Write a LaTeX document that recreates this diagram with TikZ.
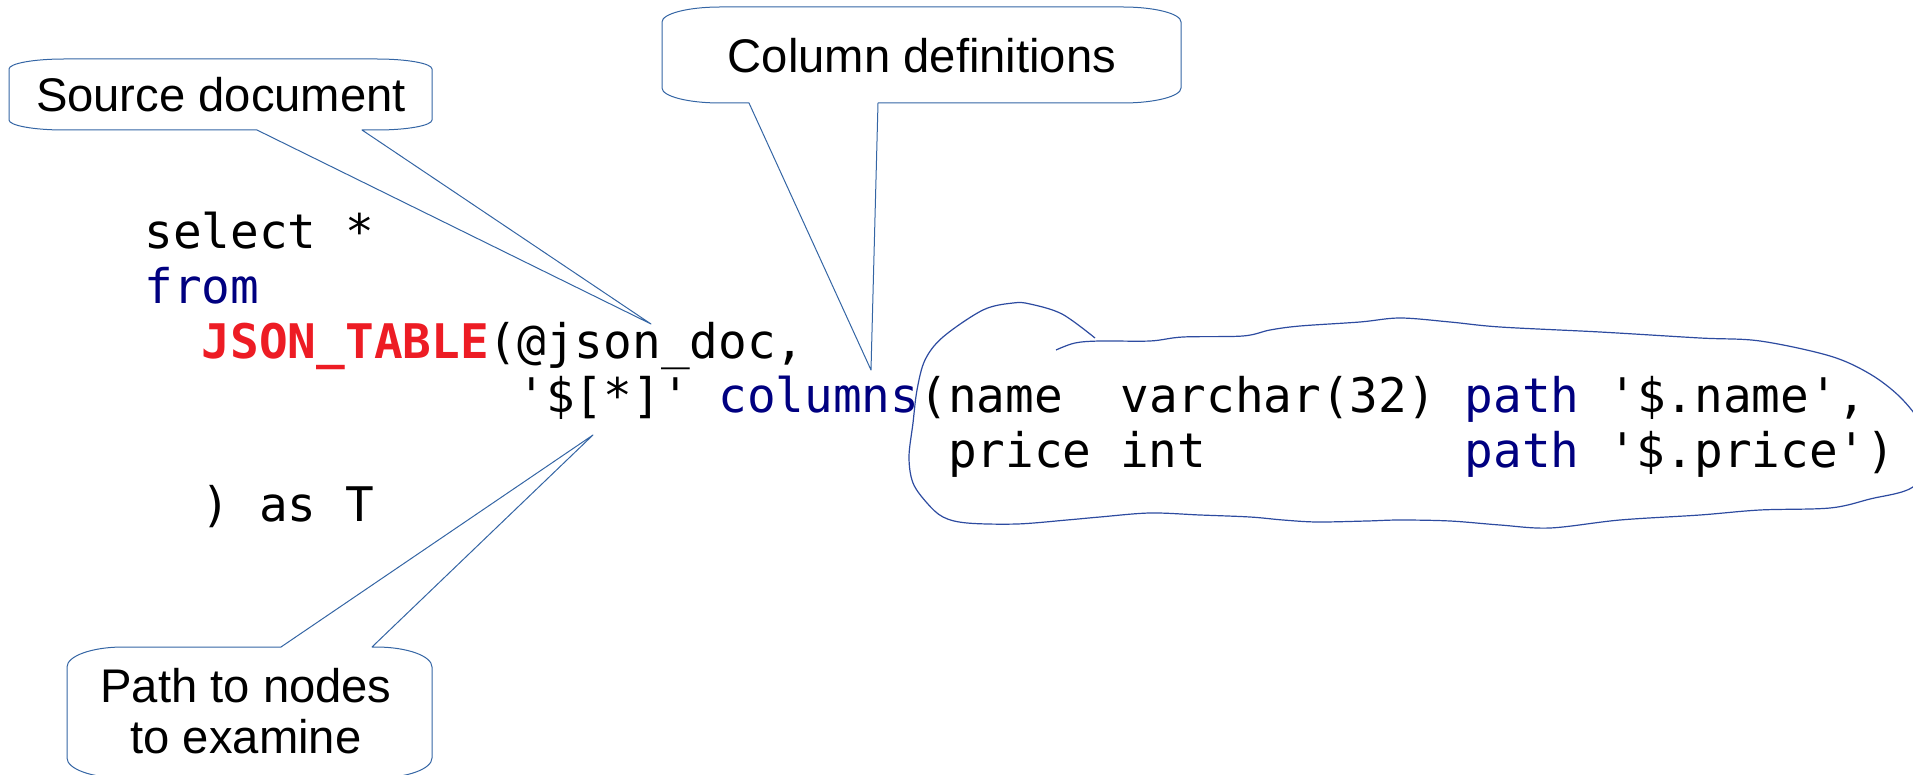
\documentclass[tikz,border=0pt]{standalone}
\usepackage{fontspec}
\setmainfont{Liberation Sans}
\setmonofont{DejaVu Sans Mono}
\definecolor{callblue}{RGB}{52,101,164}
\definecolor{cloudblue}{RGB}{45,75,160}
\definecolor{kwblue}{RGB}{0,0,128}
\definecolor{kwred}{RGB}{237,28,36}

\begin{document}
\begin{tikzpicture}[x=0.5pt, y=0.5pt]
\tikzset{code/.style={anchor=base west, inner sep=0pt, font=\ttfamily\fontsize{23.84}{27.25}\selectfont},
  calltext/.style={inner sep=0pt, font=\fontsize{23.6}{25.5}\selectfont},
  callout/.style={draw=callblue, line width=0.5pt, line join=round},
  cloud/.style={draw=cloudblue, line width=0.6pt}}
\useasboundingbox (0,0) rectangle (1913,-775);
\clip (0,0) rectangle (1913,-775);
% the query
\node[code] (lselect) at (144,-249) {select *};
\node[code] (lfrom) at (144,-303.5) {\textcolor{kwblue}{from}};
\node[code] (ltable) at (201.4,-358) {\textbf{\textcolor{kwred}{JSON\_TABLE}}(@json\_doc,};
\node[code] (lpath) at (517.1,-412.5) {'\$[*]' \textcolor{kwblue}{columns}(name~~varchar(32) \textcolor{kwblue}{path} '\$.name',};
\node[code] (lprice) at (947.6,-467) {price int~~~~~~~~~\textcolor{kwblue}{path} '\$.price')};
\node[code] (lend) at (201.4,-521.5) {) as T};
% tips of the callouts
\coordinate (srctip) at (651,-324);
\coordinate (coltip) at (871,-370);
\coordinate (pathtip) at (593,-435);
% callouts
\draw[callout] (64,-59) -- (377,-59) arc[start angle=90, end angle=0, x radius=55, y radius=10]
  -- (432,-120) arc[start angle=0, end angle=-90, x radius=55, y radius=10]
  -- (362,-130) -- (srctip) -- (257,-130)
  -- (64,-130) arc[start angle=270, end angle=180, x radius=55, y radius=10]
  -- (9,-69) arc[start angle=180, end angle=90, x radius=55, y radius=10] -- cycle;
\node[calltext, anchor=base] (src) at (221,-112) {Source document};
\draw[callout] (720,-7) -- (1123,-7) arc[start angle=90, end angle=0, x radius=58, y radius=15]
  -- (1181,-88) arc[start angle=0, end angle=-90, x radius=58, y radius=15]
  -- (878,-103) -- (coltip) -- (749,-103)
  -- (720,-103) arc[start angle=270, end angle=180, x radius=58, y radius=15]
  -- (662,-22) arc[start angle=180, end angle=90, x radius=58, y radius=15] -- cycle;
\node[calltext, anchor=base] (coldef) at (922,-73) {Column definitions};
\draw[callout] (123,-647) -- (281,-647) -- (pathtip) -- (372,-647)
  -- (376,-647) arc[start angle=90, end angle=0, x radius=56, y radius=20]
  -- (432,-758) arc[start angle=0, end angle=-90, x radius=56, y radius=20]
  -- (123,-778) arc[start angle=270, end angle=180, x radius=56, y radius=20]
  -- (67,-667) arc[start angle=180, end angle=90, x radius=56, y radius=20] -- cycle;
\node[calltext, align=center, anchor=north] (pathnodes) at (246,-668) {Path to nodes\\to examine};
% cloud round the column list
\draw[cloud] plot[smooth, tension=0.55] coordinates {(1056,-350) (1075,-343) (1100,-341) (1150,-341)
  (1183,-337) (1243,-336) (1270,-330) (1300,-326) (1360,-322) (1400,-318) (1450,-322) (1500,-327)
  (1600,-332) (1700,-338) (1760,-341) (1830,-356) (1870,-374) (1900,-397) (1922,-425) (1932,-455)
  (1913,-487) (1870,-499) (1830,-508) (1760,-510) (1700,-515) (1620,-520) (1550,-528) (1500,-525)
  (1450,-521) (1400,-520) (1367,-521) (1317,-522) (1283,-520) (1250,-517) (1200,-515) (1150,-513)
  (1100,-517) (1067,-520) (1017,-524) (967,-523) (943,-517) (927,-503) (913,-483) (909,-457)
  (913,-423) (917,-390) (925,-360) (943,-337) (983,-310) (1013,-303) (1030,-304) (1062,-314) (1095,-338)};
\end{tikzpicture}
\end{document}
